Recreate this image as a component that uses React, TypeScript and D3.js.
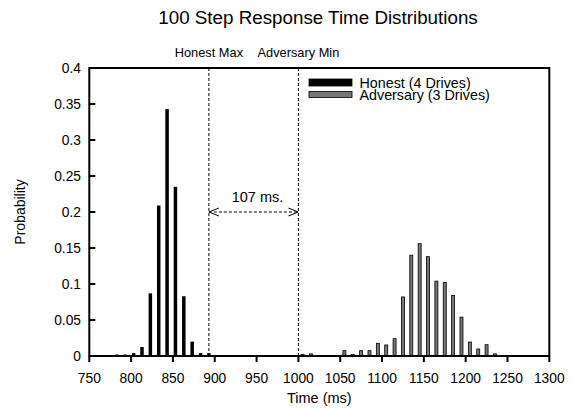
import * as d3 from 'd3';
import { useEffect, useRef } from 'react';

// bin centres (ms) and probabilities
const honestTimes = [783, 793, 803, 813, 823, 833, 843, 853, 863, 873, 883, 893];
const honestProb = [0.002, 0.002, 0.004, 0.0125, 0.087, 0.209, 0.343, 0.235, 0.083, 0.02, 0.004, 0.004];

const advTimes = [1005, 1015, 1025, 1035, 1045, 1055, 1065, 1075, 1085, 1095, 1105, 1115, 1125, 1135, 1145, 1155, 1165, 1175, 1185, 1195, 1205, 1215, 1225, 1235];
const advProb = [0.002, 0.003, 0, 0, 0, 0.0074, 0.002, 0.0074, 0.0074, 0.0176, 0.0153, 0.024, 0.082, 0.14, 0.156, 0.138, 0.104, 0.102, 0.084, 0.054, 0.0194, 0.0097, 0.0157, 0.003];

const xTicks = [750, 800, 850, 900, 950, 1000, 1050, 1100, 1150, 1200, 1250, 1300];
const yTicks = [0, 0.05, 0.1, 0.15, 0.2, 0.25, 0.3, 0.35, 0.4];

const honestMax = 893;
const adversaryMin = 1000;
const gapLabel = '107 ms.';

const FONT = '"Liberation Sans", Arial, Helvetica, sans-serif';

export default function App() {
  const svgRef = useRef<SVGSVGElement>(null);

  useEffect(() => {
    if (!svgRef.current) return;

    const width = 574;
    const height = 410;
    const left = 89.3, right = 549.3, top = 68, bottom = 356;

    const x = d3.scaleLinear().domain([750, 1300]).range([left, right]);
    const y = d3.scaleLinear().domain([0, 0.4]).range([bottom, top]);

    const svg = d3.select(svgRef.current)
      .attr('width', width)
      .attr('height', height)
      .style('font-family', FONT);
    svg.selectAll('*').remove();

    // defs: open arrowheads
    const defs = svg.append('defs');
    ['arrowL', 'arrowR'].forEach((id, i) => {
      defs.append('marker')
        .attr('id', id)
        .attr('viewBox', '0 0 10 10')
        .attr('refX', i === 0 ? 0 : 10)
        .attr('refY', 5)
        .attr('markerWidth', 10)
        .attr('markerHeight', 10)
        .attr('markerUnits', 'userSpaceOnUse')
        .attr('orient', 'auto')
        .append('path')
        .attr('d', i === 0 ? 'M10,1 L0,5 L10,9' : 'M0,1 L10,5 L0,9')
        .attr('fill', 'none')
        .attr('stroke', '#000')
        .attr('stroke-width', 1);
    });

    // title
    svg.append('text')
      .attr('x', 318)
      .attr('y', 24)
      .attr('text-anchor', 'middle')
      .attr('font-size', 18.8)
      .text('100 Step Response Time Distributions');

    // honest bars
    svg.append('g')
      .selectAll('rect')
      .data(honestTimes.map((t, i) => ({ t, p: honestProb[i] })))
      .enter()
      .append('rect')
      .attr('x', (d) => x(d.t) - 1.75)
      .attr('y', (d) => y(d.p))
      .attr('width', 3.5)
      .attr('height', (d) => bottom - y(d.p))
      .attr('fill', '#000');

    // adversary bars
    svg.append('g')
      .selectAll('rect')
      .data(advTimes.map((t, i) => ({ t, p: advProb[i] })).filter((d) => d.p > 0))
      .enter()
      .append('rect')
      .attr('x', (d) => x(d.t) - 1.5)
      .attr('y', (d) => y(d.p))
      .attr('width', 3)
      .attr('height', (d) => bottom - y(d.p))
      .attr('fill', '#777')
      .attr('stroke', '#000')
      .attr('stroke-width', 0.8);

    // dashed markers
    [honestMax, adversaryMin].forEach((t) => {
      svg.append('line')
        .attr('x1', x(t)).attr('x2', x(t))
        .attr('y1', top).attr('y2', bottom)
        .attr('stroke', '#000')
        .attr('stroke-width', 1)
        .attr('stroke-dasharray', '3,2');
    });
    svg.append('text')
      .attr('x', x(honestMax)).attr('y', 57)
      .attr('text-anchor', 'middle').attr('font-size', 12.8)
      .text('Honest Max');
    svg.append('text')
      .attr('x', x(adversaryMin)).attr('y', 57)
      .attr('text-anchor', 'middle').attr('font-size', 12.8)
      .text('Adversary Min');

    // gap arrow
    svg.append('line')
      .attr('x1', x(honestMax)).attr('x2', x(adversaryMin))
      .attr('y1', y(0.2)).attr('y2', y(0.2))
      .attr('stroke', '#000')
      .attr('stroke-width', 1)
      .attr('stroke-dasharray', '3,2')
      .attr('marker-start', 'url(#arrowL)')
      .attr('marker-end', 'url(#arrowR)');
    svg.append('text')
      .attr('x', 257.5).attr('y', 202.3)
      .attr('text-anchor', 'middle').attr('font-size', 14.5)
      .text(gapLabel);

    // border
    svg.append('rect')
      .attr('x', left).attr('y', top)
      .attr('width', right - left).attr('height', bottom - top)
      .attr('fill', 'none')
      .attr('stroke', '#000')
      .attr('stroke-width', 2);

    // x ticks (outward)
    const xg = svg.append('g');
    xg.selectAll('line')
      .data(xTicks)
      .enter()
      .append('line')
      .attr('x1', (d) => x(d)).attr('x2', (d) => x(d))
      .attr('y1', bottom).attr('y2', bottom + 6)
      .attr('stroke', '#000').attr('stroke-width', 2);
    xg.selectAll('text')
      .data(xTicks)
      .enter()
      .append('text')
      .attr('x', (d) => x(d)).attr('y', 382.5)
      .attr('text-anchor', 'middle').attr('font-size', 13.8)
      .text((d) => String(d));

    // y ticks (inward)
    const yg = svg.append('g');
    yg.selectAll('line')
      .data(yTicks)
      .enter()
      .append('line')
      .attr('x1', left).attr('x2', left + 6)
      .attr('y1', (d) => y(d)).attr('y2', (d) => y(d))
      .attr('stroke', '#000').attr('stroke-width', 2);
    yg.selectAll('text')
      .data(yTicks)
      .enter()
      .append('text')
      .attr('x', 81).attr('y', (d) => y(d) + 5)
      .attr('text-anchor', 'end').attr('font-size', 13.8)
      .text((d) => String(d));

    // axis titles
    svg.append('text')
      .attr('x', x(1025)).attr('y', 403)
      .attr('text-anchor', 'middle').attr('font-size', 14.5)
      .text('Time (ms)');
    svg.append('text')
      .attr('transform', 'translate(25,212) rotate(-90)')
      .attr('text-anchor', 'middle').attr('font-size', 14)
      .text('Probability');

    // legend
    const legend = [
      { label: 'Honest (4 Drives)', fill: '#000', y: 79, h: 7, base: 88.3 },
      { label: 'Adversary (3 Drives)', fill: '#777', y: 91.5, h: 6, base: 99.5 },
    ];
    const lg = svg.append('g');
    legend.forEach((l) => {
      lg.append('rect')
        .attr('x', 309).attr('y', l.y)
        .attr('width', 43).attr('height', l.h)
        .attr('fill', l.fill)
        .attr('stroke', '#000').attr('stroke-width', 0.8);
      lg.append('text')
        .attr('x', 359.5).attr('y', l.base)
        .attr('font-size', 14.3)
        .text(l.label);
    });
  }, []);

  return <svg ref={svgRef} style={{ position: 'absolute', left: 0, top: 0 }} />;
}
